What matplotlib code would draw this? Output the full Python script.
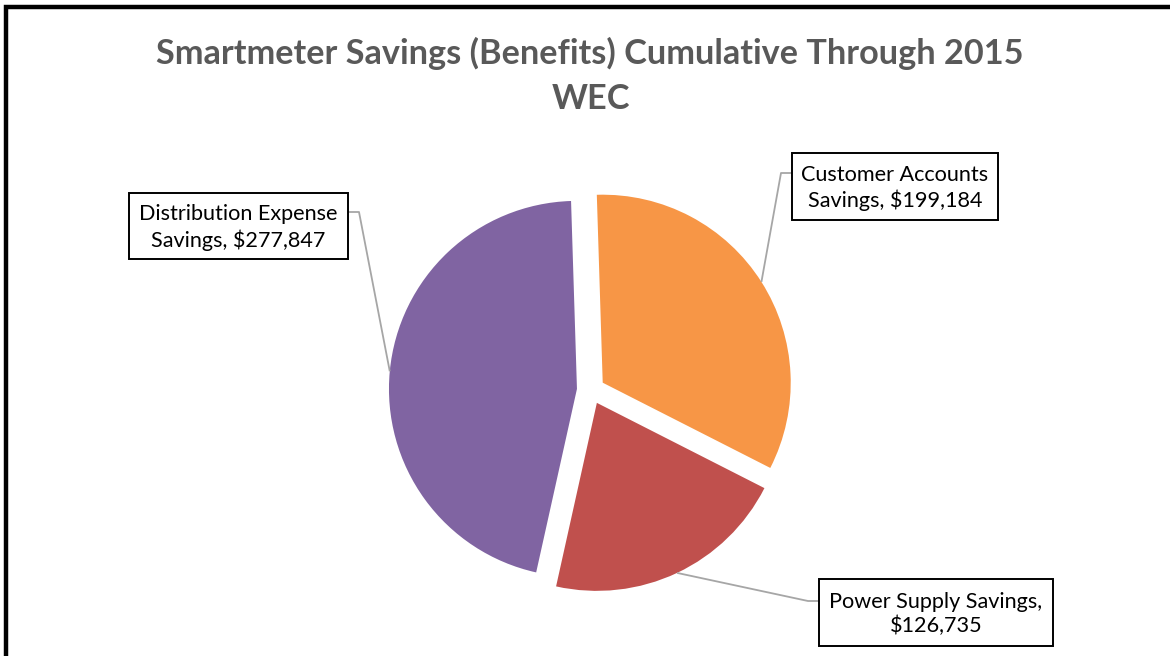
import numpy as np
import matplotlib
matplotlib.use("Agg")
import matplotlib.pyplot as plt
from matplotlib.patches import Rectangle

# ---- data ----
categories = ["Customer Accounts Savings", "Power Supply Savings", "Distribution Expense Savings"]
values = [199184, 126735, 277847]
label_texts = ["Customer Accounts\nSavings, $199,184",
               "Power Supply Savings,\n$126,735",
               "Distribution Expense\nSavings, $277,847"]
colors = ["#F79646", "#C0504D", "#8064A2"]
title_lines = ["Smartmeter Savings (Benefits) Cumulative Through 2015", "WEC"]

W, H = 1170, 656
fig = plt.figure(figsize=(W / 100, H / 100), dpi=100)
ax = fig.add_axes([0, 0, 1, 1])

FONT = "Lato"

# pie
cx, cy, R = 590.9, H - 390.2, 188
wedges, _ = ax.pie(values, colors=colors, startangle=91.8, counterclock=False,
                   explode=[14] * len(values), center=(cx, cy), radius=R,
                   wedgeprops=dict(linewidth=0), frame=True)
ax.set_xlim(0, W)
ax.set_ylim(0, H)
ax.set_aspect("equal")
ax.axis("off")

# border (extends past right/bottom like the cropped original)
ax.add_patch(Rectangle((6, -20), W + 40, H - 7 + 20, fill=False,
                       edgecolor="black", linewidth=3.2, clip_on=True))

# title
ax.text(590, H - 53, title_lines[0], ha="center", va="center",
        fontsize=24.7, fontweight="bold", color="#595959", family=FONT)
ax.text(591, H - 99, title_lines[1], ha="center", va="center",
        fontsize=24.7, fontweight="bold", color="#595959", family=FONT)

# label boxes (layout): (left, top, right, bottom) in pixel coordinates, and leader elbow y
boxes = [
    (792, 153, 998, 220, "left", 173),
    (819, 579, 1053, 646, "left", 601),
    (129, 193, 348, 259, "right", 212),
]
leader_color = "#A6A6A6"
for w, txt, (l, t, r, b, side, ly) in zip(wedges, label_texts, boxes):
    ax.add_patch(Rectangle((l, H - b), r - l, b - t, facecolor="white",
                           edgecolor="black", linewidth=1.4, zorder=5))
    ax.text((l + r) / 2, H - (t + b) / 2 - 1.5, txt, ha="center", va="center",
            fontsize=15.6, family=FONT, color="black", linespacing=1.28, zorder=6)
    mid = np.deg2rad((w.theta1 + w.theta2) / 2)
    ex = w.center[0] + w.r * np.cos(mid)
    ey = w.center[1] + w.r * np.sin(mid)
    if side == "left":
        xs = [l, l - 11, ex]
    else:
        xs = [r, r + 11, ex]
    ys = [H - ly, H - ly, ey]
    ax.plot(xs, ys, color=leader_color, linewidth=1.3, zorder=4,
            solid_capstyle="butt")

fig.savefig("out.png", dpi=100, facecolor="white")
